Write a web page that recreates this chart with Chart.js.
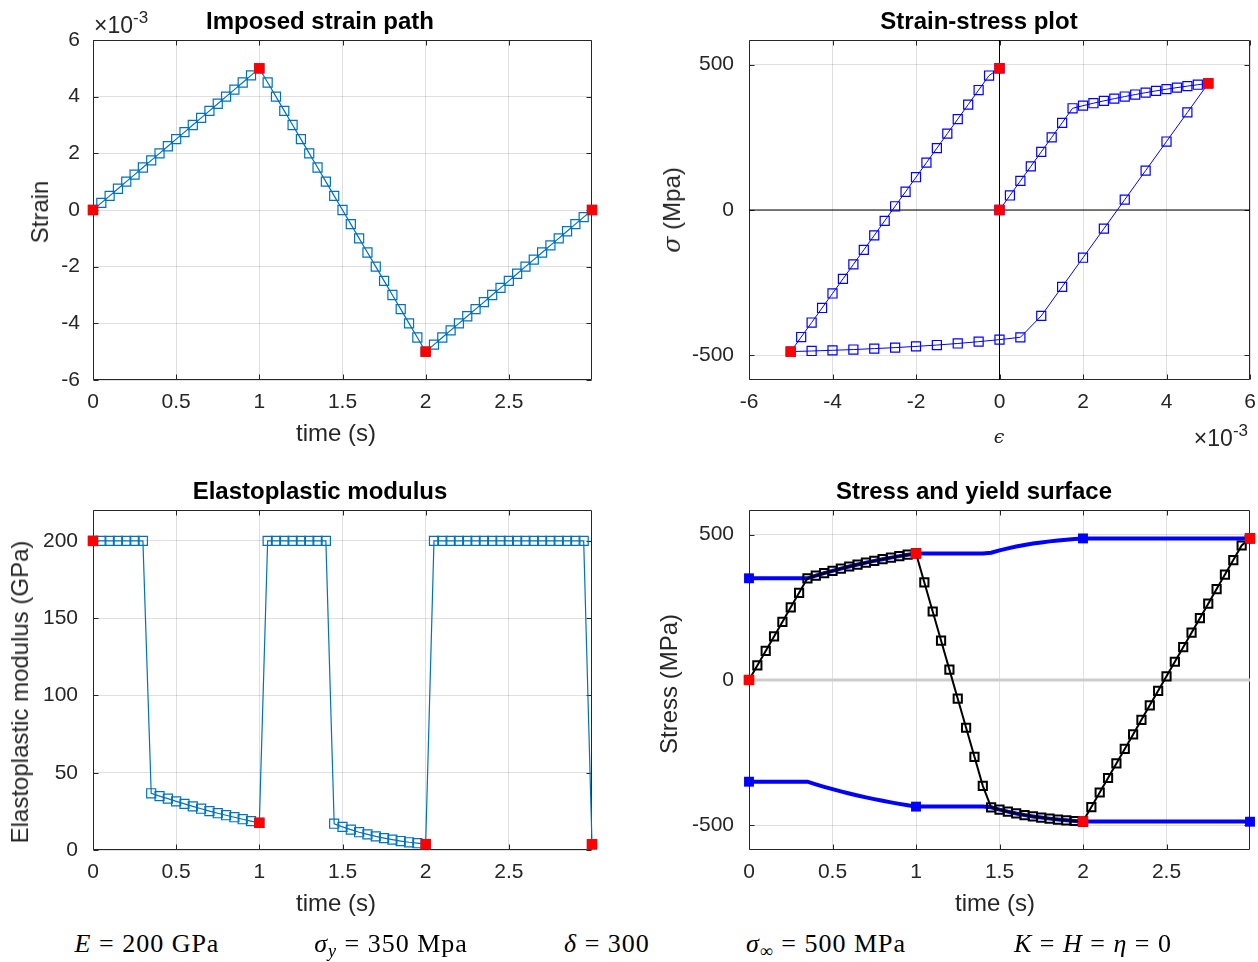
<!DOCTYPE html>
<html>
<head>
<meta charset="utf-8">
<script src="https://cdn.jsdelivr.net/npm/chart.js@4.4.1/dist/chart.umd.min.js"></script>
<style>
  body { margin: 0; background: #fff; width: 1258px; height: 962px; position: relative; overflow: hidden;
         font-family: 'Liberation Sans', Arial, Helvetica, sans-serif; color: #262626; }
  .pane { position: absolute; }
  .txt { position: absolute; white-space: nowrap; line-height: 1; }
  .title { font-size: 24px; font-weight: bold; color: #000; transform: translateX(-50%); }
  .xlab { font-size: 24px; transform: translateX(-50%); }
  .ylab { font-size: 24px; transform: translate(-50%, -50%) rotate(-90deg); }
  .tex { font-family: 'Liberation Serif', 'DejaVu Serif', serif; font-size: 26px; letter-spacing: 1px; color: #000; transform: translateX(-50%); }
  .tex sub { font-size: 0.7em; vertical-align: -0.25em; line-height: 0; }
  .mul { font-size: 23px; }
  .mul sup { font-size: 17px; vertical-align: 10px; line-height: 0; }
</style>
</head>
<body>

<div class="pane" style="left:0;top:0"><canvas id="c1" width="629" height="470"></canvas></div>
<div class="pane" style="left:629px;top:0"><canvas id="c2" width="645" height="470"></canvas></div>
<div class="pane" style="left:0;top:470px"><canvas id="c3" width="629" height="450"></canvas></div>
<div class="pane" style="left:629px;top:470px"><canvas id="c4" width="645" height="450"></canvas></div>

<!-- titles -->
<div class="txt title" style="left:320px;top:9px">Imposed strain path</div>
<div class="txt title" style="left:979px;top:9px">Strain-stress plot</div>
<div class="txt title" style="left:320px;top:479px">Elastoplastic modulus</div>
<div class="txt title" style="left:974px;top:479px">Stress and yield surface</div>

<!-- axis labels -->
<div class="txt xlab" style="left:336px;top:421px">time (s)</div>
<div class="txt xlab" style="left:336px;top:891px">time (s)</div>
<div class="txt xlab" style="left:995px;top:891px">time (s)</div>
<div class="txt" style="left:999px;top:427px;font-family:'DejaVu Serif',serif;font-style:italic;font-size:19px;transform:translateX(-50%)">ϵ</div>

<div class="txt ylab" style="left:40px;top:212px">Strain</div>
<div class="txt ylab" style="left:672px;top:210px"><span style="font-family:'DejaVu Serif',serif;font-style:italic">σ</span> (Mpa)</div>
<div class="txt ylab" style="left:20px;top:692px">Elastoplastic modulus (GPa)</div>
<div class="txt ylab" style="left:669px;top:684px">Stress (MPa)</div>

<!-- exponent labels -->
<div class="txt mul" style="left:94px;top:14px">×10<sup>-3</sup></div>
<div class="txt mul" style="right:10px;top:427px">×10<sup>-3</sup></div>

<!-- material parameters -->
<div class="txt tex" style="left:147px;top:931px"><i>E</i> = 200 GPa</div>
<div class="txt tex" style="left:391px;top:931px"><i>σ</i><sub><i>y</i></sub> = 350 Mpa</div>
<div class="txt tex" style="left:607px;top:931px"><i>δ</i> = 300</div>
<div class="txt tex" style="left:826px;top:931px"><i>σ</i><sub>∞</sub> = 500 MPa</div>
<div class="txt tex" style="left:1093px;top:931px"><i>K</i> = <i>H</i> = <i>η</i> = 0</div>

<script>
// time steps of the simulation (s)
const time = [0, 0.05, 0.1, 0.15, 0.2, 0.25, 0.3, 0.35, 0.4, 0.45, 0.5, 0.55, 0.6, 0.65, 0.7, 0.75, 0.8, 0.85, 0.9, 0.95, 1,
  1.05, 1.1, 1.15, 1.2, 1.25, 1.3, 1.35, 1.4, 1.45, 1.5, 1.55, 1.6, 1.65, 1.7, 1.75, 1.8, 1.85, 1.9, 1.95, 2,
  2.05, 2.1, 2.15, 2.2, 2.25, 2.3, 2.35, 2.4, 2.45, 2.5, 2.55, 2.6, 2.65, 2.7, 2.75, 2.8, 2.85, 2.9, 2.95, 3];

// imposed strain (x 10^-3)
const strain = [0, 0.25, 0.5, 0.75, 1, 1.25, 1.5, 1.75, 2, 2.25, 2.5, 2.75, 3, 3.25, 3.5, 3.75, 4, 4.25, 4.5, 4.75, 5,
  4.5, 4, 3.5, 3, 2.5, 2, 1.5, 1, 0.5, 0, -0.5, -1, -1.5, -2, -2.5, -3, -3.5, -4, -4.5, -5,
  -4.75, -4.5, -4.25, -4, -3.75, -3.5, -3.25, -3, -2.75, -2.5, -2.25, -2, -1.75, -1.5, -1.25, -1, -0.75, -0.5, -0.25, 0];

// stress (MPa)
const stress = [0, 50, 100, 150, 200, 250, 300, 350, 359.0, 367.5, 375.6, 383.2, 390.5, 397.3, 403.8, 410.0, 415.7, 421.2, 426.3, 431.1, 435.7,
  335.7, 235.7, 135.7, 35.7, -64.3, -164.3, -264.3, -364.3, -438.1, -446.1, -453.1, -459.3, -464.7, -469.4, -473.5, -477.0, -480.2, -482.8, -485.2, -487.2,
  -437.2, -387.2, -337.2, -287.2, -237.2, -187.2, -137.2, -87.2, -37.2, 12.8, 62.8, 112.8, 162.8, 212.8, 262.8, 312.8, 362.8, 412.8, 462.8, 487.7];

// elastoplastic tangent modulus (GPa)
const modulus = [200, 200, 200, 200, 200, 200, 200, 36.7, 34.9, 33.2, 31.5, 29.8, 28.2, 26.7, 25.2, 23.8, 22.5, 21.2, 19.9, 18.7, 17.6,
  200, 200, 200, 200, 200, 200, 200, 200, 17.0, 15.0, 13.2, 11.5, 10.1, 8.8, 7.7, 6.7, 5.8, 5.0, 4.4, 3.8,
  200, 200, 200, 200, 200, 200, 200, 200, 200, 200, 200, 200, 200, 200, 200, 200, 200, 200, 200, 3.7];

// yield surface (MPa)
const yieldUpper = [350, 350, 350, 350, 350, 350, 350, 350, 359.0, 367.5, 375.6, 383.2, 390.5, 397.3, 403.8, 410.0, 415.7, 421.2, 426.3, 431.1, 435.7,
  435.7, 435.7, 435.7, 435.7, 435.7, 435.7, 435.7, 435.7, 438.1, 446.1, 453.1, 459.3, 464.7, 469.4, 473.5, 477.0, 480.2, 482.8, 485.2, 487.2,
  487.2, 487.2, 487.2, 487.2, 487.2, 487.2, 487.2, 487.2, 487.2, 487.2, 487.2, 487.2, 487.2, 487.2, 487.2, 487.2, 487.2, 487.2, 487.2, 487.7];
const yieldLower = [-350, -350, -350, -350, -350, -350, -350, -350, -359.0, -367.5, -375.6, -383.2, -390.5, -397.3, -403.8, -410.0, -415.7, -421.2, -426.3, -431.1, -435.7,
  -435.7, -435.7, -435.7, -435.7, -435.7, -435.7, -435.7, -435.7, -438.1, -446.1, -453.1, -459.3, -464.7, -469.4, -473.5, -477.0, -480.2, -482.8, -485.2, -487.2,
  -487.2, -487.2, -487.2, -487.2, -487.2, -487.2, -487.2, -487.2, -487.2, -487.2, -487.2, -487.2, -487.2, -487.2, -487.2, -487.2, -487.2, -487.2, -487.2, -487.7];

// load reversal steps (t = 0, 1, 2, 3)
const keyIdx = [0, 20, 40, 60];

// tick labels
const timeTicks = [0, 0.5, 1, 1.5, 2, 2.5];
const strainTicks = [-6, -4, -2, 0, 2, 4, 6];
const stressTicks = [-500, 0, 500];
const modulusTicks = [0, 50, 100, 150, 200];

const FONT = "'Liberation Sans', Arial, Helvetica, sans-serif";
const AX = '#262626';
const GRID = 'rgba(38,38,38,0.15)';
const STRESS_LIM = 585;

const pts = (xs, ys) => xs.map((x, i) => ({ x, y: ys[i] }));
const pick = (xs, ys, idx) => idx.map(i => ({ x: xs[i], y: ys[i] }));

// box with inward ticks on all four sides, like MATLAB "box on"
const matlabBox = {
  id: 'matlabBox',
  beforeDatasetsDraw(chart) {
    const { ctx, chartArea: a, scales } = chart;
    const L = Math.round(a.left) + 0.5, R = Math.round(a.right) - 0.5;
    const T = Math.round(a.top) + 0.5, B = Math.round(a.bottom) - 0.5;
    ctx.save();
    ctx.strokeStyle = AX;
    ctx.lineWidth = 1;
    ctx.beginPath();
    ctx.rect(L, T, R - L, B - T);
    scales.x.ticks.forEach(t => {
      const p = Math.round(scales.x.getPixelForValue(t.value)) + 0.5;
      ctx.moveTo(p, B); ctx.lineTo(p, B - 5);
      ctx.moveTo(p, T); ctx.lineTo(p, T + 5);
    });
    scales.y.ticks.forEach(t => {
      const p = Math.round(scales.y.getPixelForValue(t.value)) + 0.5;
      ctx.moveTo(L, p); ctx.lineTo(L + 5, p);
      ctx.moveTo(R, p); ctx.lineTo(R - 5, p);
    });
    ctx.stroke();
    ctx.restore();
  }
};

function axis(min, max, ticks, fit, pad) {
  return {
    type: 'linear', min, max,
    afterBuildTicks: s => { s.ticks = ticks.map(v => ({ value: v })); },
    afterFit: fit,
    grid: { color: GRID, lineWidth: 1, drawTicks: false },
    border: { display: false },
    ticks: { color: AX, font: { family: FONT, size: 21 }, padding: pad,
             maxRotation: 0, autoSkip: false, callback: v => String(v) }
  };
}

function options(padding, x, y) {
  return {
    responsive: false,
    animation: false,
    events: [],
    layout: { padding, autoPadding: false },
    plugins: { legend: { display: false }, tooltip: { enabled: false }, title: { display: false } },
    scales: { x, y }
  };
}

// red filled squares at the load reversals
function keyMarkers(data) {
  return { data, showLine: false, pointStyle: 'rect', pointRadius: 7.4, borderWidth: 0,
           pointBackgroundColor: '#FF0000', pointBorderWidth: 0, clip: false, order: 0 };
}

function markedLine(data, color, lw, r, mw, order) {
  return { data, showLine: true, borderColor: color, borderWidth: lw, tension: 0,
           pointStyle: 'rect', pointRadius: r, pointBorderColor: color, pointBorderWidth: mw,
           pointBackgroundColor: 'rgba(0,0,0,0)', clip: false, order };
}

function plainLine(data, color, lw, order) {
  return { data, showLine: true, borderColor: color, borderWidth: lw, tension: 0,
           pointRadius: 0, clip: false, order };
}

// 1: imposed strain path
new Chart(document.getElementById('c1'), {
  type: 'scatter',
  data: { datasets: [
    keyMarkers(pick(time, strain, keyIdx)),
    markedLine(pts(time, strain), '#0072BD', 1.2, 6.4, 1.2, 1)
  ] },
  options: options({ top: 40, right: 37, left: 0, bottom: 0 },
    axis(0, 3, timeTicks, s => { s.height = 90; }, 10),
    axis(-6, 6, strainTicks, s => { s.width = 93; }, 13)),
  plugins: [matlabBox]
});

// 2: strain-stress loop
new Chart(document.getElementById('c2'), {
  type: 'scatter',
  data: { datasets: [
    keyMarkers(pick(strain, stress, keyIdx)),
    markedLine(pts(strain, stress), '#0000FF', 1, 6.4, 1.2, 1),
    plainLine([{ x: 0, y: -STRESS_LIM }, { x: 0, y: STRESS_LIM }], '#000000', 1, 2),
    plainLine([{ x: strainTicks[0], y: 0 }, { x: strainTicks[strainTicks.length - 1], y: 0 }], '#000000', 1, 2)
  ] },
  options: options({ top: 40, right: 24, left: 0, bottom: 0 },
    axis(-6, 6, strainTicks, s => { s.height = 90; }, 10),
    axis(-STRESS_LIM, STRESS_LIM, stressTicks, s => { s.width = 120; }, 15)),
  plugins: [matlabBox]
});

// 3: elastoplastic modulus
new Chart(document.getElementById('c3'), {
  type: 'scatter',
  data: { datasets: [
    keyMarkers(pick(time, modulus, keyIdx)),
    markedLine(pts(time, modulus), '#0072BD', 1.2, 6.4, 1.2, 1)
  ] },
  options: options({ top: 40, right: 37, left: 0, bottom: 0 },
    axis(0, 3, timeTicks, s => { s.height = 70; }, 10),
    axis(0, 220, modulusTicks, s => { s.width = 93; }, 15)),
  plugins: [matlabBox]
});

// 4: stress and yield surface
new Chart(document.getElementById('c4'), {
  type: 'scatter',
  data: { datasets: [
    keyMarkers(pick(time, stress, keyIdx)),
    markedLine(pts(time, stress), '#000000', 2, 5.8, 2, 1),
    { data: pick(time, yieldUpper, keyIdx).concat(pick(time, yieldLower, keyIdx)), showLine: false,
      pointStyle: 'rect', pointRadius: 7, pointBackgroundColor: '#0000FF', pointBorderWidth: 0, clip: false, order: 2 },
    plainLine(pts(time, yieldUpper), '#0000FF', 4, 3),
    plainLine(pts(time, yieldLower), '#0000FF', 4, 3),
    plainLine([{ x: time[0], y: 0 }, { x: time[time.length - 1], y: 0 }], '#CCCCCC', 3, 4)
  ] },
  options: options({ top: 40, right: 24, left: 0, bottom: 0 },
    axis(0, 3, timeTicks, s => { s.height = 70; }, 10),
    axis(-STRESS_LIM, STRESS_LIM, stressTicks, s => { s.width = 120; }, 15)),
  plugins: [matlabBox]
});
</script>
</body>
</html>
